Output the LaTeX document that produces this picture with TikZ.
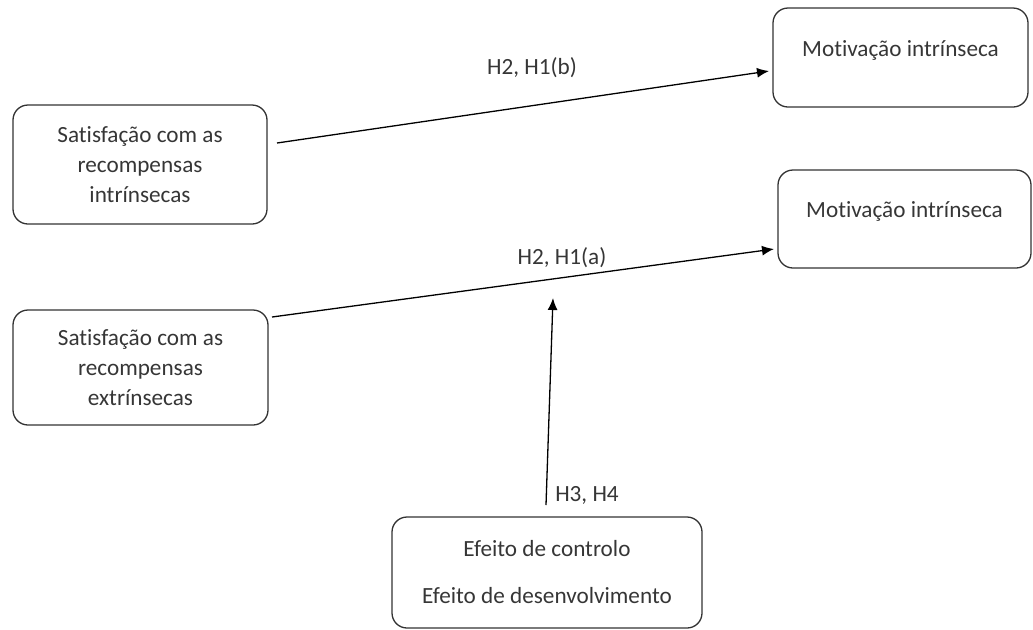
\documentclass[tikz,border=0pt]{standalone}
\usepackage{fontspec}
\setmainfont{Carlito}[Ligatures=NoCommon]
\usepackage{xcolor}
\usetikzlibrary{arrows.meta}
\usetikzlibrary{positioning}
\definecolor{txtgray}{HTML}{363636}

\begin{document}
\begin{tikzpicture}[x=0.5pt,y=-0.5pt,
    box/.style={draw=black!80, line width=0.65pt, rounded corners=7.5pt, align=center,
        text=txtgray, font=\fontsize{11.6}{15}\selectfont, inner sep=0pt},
    hyp/.style={text=txtgray, font=\fontsize{11.6}{13}\selectfont, inner sep=0pt},
    link/.style={line width=0.65pt, -{Latex[length=6pt,width=5pt]}}]
    \useasboundingbox (0,0) rectangle (1033,629);
    \node[box, minimum width=127.5pt, minimum height=49.5pt, text depth=9pt] (mot1) at (900.5,57.5) {Motivação intrínseca};
    \node[box, minimum width=126.5pt, minimum height=49pt, text depth=9pt] (mot2) at (904.5,219) {Motivação intrínseca};
    \node[box, minimum width=127pt, minimum height=59.5pt] (sat1) at (140,164.5) {Satisfação com as\\recompensas\\intrínsecas};
    \node[box, minimum width=127.5pt, minimum height=57.5pt] (sat2) at (140.5,367.5) {Satisfação com as\\recompensas\\extrínsecas};
    \node[box, minimum width=155pt, minimum height=55.5pt] (efeito) at (547,572.5) {Efeito de controlo\\[8.5pt]Efeito de desenvolvimento};
    % ends of the arrows
    \coordinate (s1) at (277,143);
    \coordinate (e1) at (769,71);
    \coordinate (s2) at (272,317);
    \coordinate (e2) at (774,249);
    \coordinate (s3) at (546,505);
    \coordinate (e3) at (553,298);
    \draw[link] (s1) -- (e1);
    \draw[link] (s2) -- (e2);
    \draw[link] (s3) -- (e3);
    \node[hyp] (hb) at (532,68) {H2, H1(b)};
    \node[hyp] (ha) at (562,258) {H2, H1(a)};
    \node[hyp] (hc) at (587,495) {H3, H4};
\end{tikzpicture}
\end{document}
